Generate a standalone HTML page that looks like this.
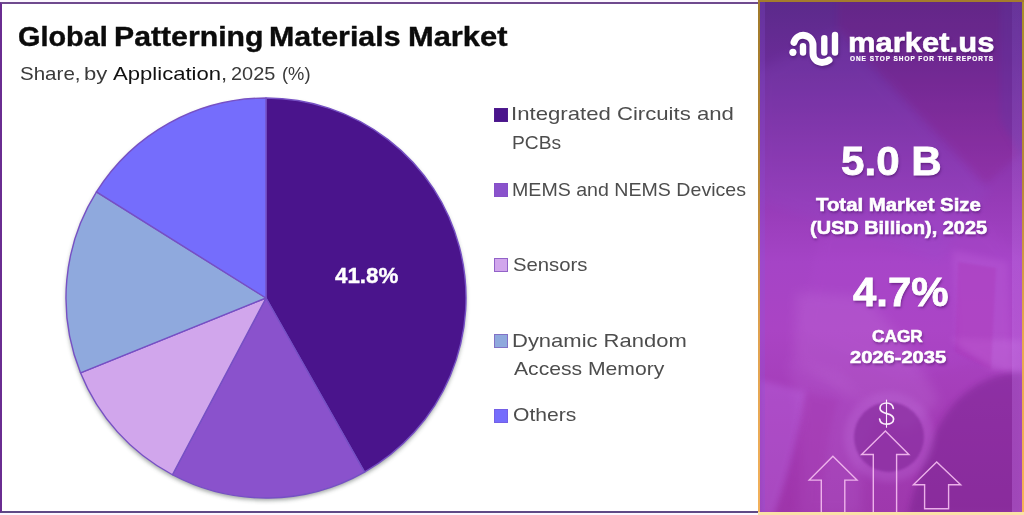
<!DOCTYPE html>
<html lang="en">
<head>
<meta charset="utf-8">
<title>Global Patterning Materials Market</title>
<style>
  html, body { margin: 0; padding: 0; }
  body {
    width: 1024px; height: 515px; overflow: hidden; position: relative;
    background: #fcf7ff;
    font-family: "Liberation Sans", sans-serif;
  }
  .abs { position: absolute; white-space: nowrap; line-height: 1; transform-origin: 0 0; }

  /* ---------- left chart card ---------- */
  #card {
    position: absolute; left: 0; top: 2px; width: 758px; height: 511px;
    box-sizing: border-box;
    border-left: 2px solid #6a2c91;
    border-top: 2px solid #6f4a8e;
    border-bottom: 2px solid #5f4a86;
    background: #ffffff;
  }
  .ttl { font-weight: bold; color: #0b0b0b; -webkit-text-stroke: 0.4px #0b0b0b; display:block; }
  .sub { color: #3a3a3a; display:block; }
  .sub b { font-weight: normal; color: #111; }

  .leg { color: #4d4d4d; }
  .sw { position: absolute; width: 14px; height: 14px; box-sizing: border-box; border: 1px solid #8a55c8; }

  /* ---------- right stat panel ---------- */
  #panel {
    position: absolute; left: 758px; top: 0; width: 266px; height: 515px;
    overflow: hidden;
    background: linear-gradient(180deg, #5b2a8b 0%, #6a2c97 12%, #8032a5 25%, #963bb7 39%, #a544c6 51%, #aa44c4 64%, #a43db8 78%, #9e38ac 100%);
  }
  #panelborder { position: absolute; left: 758px; top: 0; width: 266px; height: 515px; pointer-events: none; }
  #panelborder i { position: absolute; display: block; }
  #pb-t { left: 0; top: 0; width: 266px; height: 2px; background: #a47c2c; }
  #pb-l { left: 0; top: 0; width: 2px; height: 515px; background: linear-gradient(180deg, #a07a2a 0%, #b88838 35%, #e0a250 65%, #f3b25c 100%); }
  #pb-r { right: 0; top: 0; width: 2.4px; height: 515px; background: linear-gradient(180deg, #a89028 0%, #b88838 35%, #e8a850 65%, #f6b258 100%); }
  #pb-b { left: 0; bottom: 0; width: 266px; height: 2.8px; background: #fbe2a6; }
  .w { color: #ffffff; font-weight: bold; text-shadow: 1px 2px 2.5px rgba(60,10,85,0.5); }

  /* fitted text metrics */
  #tw1 { left:17.8px; top:22.7px; font-size:27.5px; transform:scaleX(1.048); }
  #tw2 { left:113.6px; top:22.7px; font-size:27.5px; transform:scaleX(1.099); }
  #tw3 { left:269.0px; top:22.7px; font-size:27.5px; transform:scaleX(1.103); }
  #tw4 { left:407.9px; top:22.7px; font-size:27.5px; transform:scaleX(1.122); }
  #sb1 { left:19.6px; top:63.9px; font-size:19.0px; transform:scaleX(1.081); }
  #sb2 { left:83.8px; top:63.9px; font-size:19.0px; transform:scaleX(1.160); }
  #sb3 { left:113.4px; top:63.9px; font-size:19.0px; transform:scaleX(1.163); }
  #sb4 { left:231.3px; top:63.9px; font-size:19.0px; transform:scaleX(1.050); }
  #sb5 { left:282.4px; top:63.9px; font-size:19.0px; transform:scaleX(0.965); }
  #pct { left:334.6px; top:265.0px; font-size:22.5px; transform:scaleX(0.992); }
  #l1a { left:511.2px; top:103.9px; font-size:19.0px; transform:scaleX(1.166); }
  #l1b { left:511.6px; top:132.9px; font-size:19.0px; transform:scaleX(1.011); }
  #l2 { left:511.6px; top:179.9px; font-size:19.0px; transform:scaleX(1.031); }
  #l3 { left:512.7px; top:254.9px; font-size:19.0px; transform:scaleX(1.068); }
  #l4a { left:511.5px; top:330.9px; font-size:19.0px; transform:scaleX(1.157); }
  #l4b { left:513.8px; top:358.9px; font-size:19.0px; transform:scaleX(1.112); }
  #l5 { left:512.7px; top:404.9px; font-size:19.0px; transform:scaleX(1.109); }
  #mk { left:848.0px; top:27.9px; font-size:28.5px; transform:scaleX(1.087); }
  #tag { left:850.2px; top:55.6px; font-size:6.5px; transform:scaleX(0.997); }
  #v1 { left:841.2px; top:139.9px; font-size:41.5px; transform:scaleX(1.016); }
  #t1 { left:816.0px; top:194.9px; font-size:19.0px; transform:scaleX(1.072); }
  #t2 { left:810.0px; top:217.9px; font-size:19.0px; transform:scaleX(1.048); }
  #v2 { left:852.8px; top:270.9px; font-size:41.5px; transform:scaleX(1.011); }
  #t3 { left:872.1px; top:328.0px; font-size:16.5px; transform:scaleX(1.044); }
  #t4 { left:849.8px; top:349.0px; font-size:16.5px; transform:scaleX(1.218); }
  /* end fitted */
  #v1, #v2 { -webkit-text-stroke: 0.8px #fff; }
  #t1, #t2, #t3, #t4 { -webkit-text-stroke: 0.6px #fff; }
  #pct { -webkit-text-stroke: 0.4px #fff; }
  #mk { -webkit-text-stroke: 0.6px #fff; }
  #tag { -webkit-text-stroke: 0.2px #fff; letter-spacing:0.95px; text-shadow:none; }
</style>
</head>
<body>

<div id="card"></div>

<div id="title"><span id="tw1" class="abs ttl">Global</span> <span id="tw2" class="abs ttl">Patterning</span> <span id="tw3" class="abs ttl">Materials</span> <span id="tw4" class="abs ttl">Market</span></div>
<div id="subtitle"><span id="sb1" class="abs sub">Share,</span> <span id="sb2" class="abs sub">by</span> <span id="sb3" class="abs sub"><b>Application</b>,</span> <span id="sb4" class="abs sub">2025</span> <span id="sb5" class="abs sub">(%)</span></div>

<!-- pie -->
<svg id="pie" class="abs" style="left:46px; top:78px;" width="440" height="440" viewBox="46 78 440 440">
  <defs>
    <filter id="ps" x="-10%" y="-10%" width="120%" height="120%">
      <feGaussianBlur stdDeviation="2.2"/>
    </filter>
  </defs>
  <circle cx="266" cy="300.5" r="200" fill="#3c4a44" opacity="0.5" filter="url(#ps)"/>
  <g stroke="#7650c4" stroke-width="1.4" stroke-linejoin="round">
    <path id="s1" fill="#4a148c" d="M266 298 L266.00 98.00 A200 200 0 0 1 364.55 472.04 Z"/>
    <path id="s2" fill="#8a52cc" d="M266 298 L364.55 472.04 A200 200 0 0 1 172.41 474.75 Z"/>
    <path id="s3" fill="#d1a6ec" d="M266 298 L172.41 474.75 A200 200 0 0 1 80.51 372.79 Z"/>
    <path id="s4" fill="#8fa9dd" d="M266 298 L80.51 372.79 A200 200 0 0 1 96.46 191.90 Z"/>
    <path id="s5" fill="#756dfc" d="M266 298 L96.46 191.90 A200 200 0 0 1 266.00 98.00 Z"/>
  </g>
</svg>

<div id="pct" class="abs" style="font-weight:bold; color:#fff;">41.8%</div>

<!-- legend -->
<div class="sw" style="left:494px; top:108px; background:#4a148c; border-color:#4f1c8e;"></div>
<div class="abs leg" id="l1a">Integrated Circuits and</div>
<div class="abs leg" id="l1b">PCBs</div>

<div class="sw" style="left:494px; top:183px; background:#8a52cc; border-color:#8650c8;"></div>
<div class="abs leg" id="l2">MEMS and NEMS Devices</div>

<div class="sw" style="left:494px; top:258px; background:#d1a6ec; border-color:#9263c8;"></div>
<div class="abs leg" id="l3">Sensors</div>

<div class="sw" style="left:494px; top:334px; background:#8fa9dd; border-color:#8272c6;"></div>
<div class="abs leg" id="l4a">Dynamic Random</div>
<div class="abs leg" id="l4b">Access Memory</div>

<div class="sw" style="left:494px; top:409px; background:#756dfc; border-color:#7460e6;"></div>
<div class="abs leg" id="l5">Others</div>

<!-- right panel -->
<div id="panel">
  <svg id="bgart" width="266" height="515" viewBox="758 0 266 515" style="position:absolute;left:0;top:0;">
    <defs>
      <linearGradient id="stripg" x1="0" y1="0" x2="0" y2="1"><stop offset="0" stop-color="#8c6ad8" stop-opacity="0.14"/><stop offset="0.5" stop-color="#c680ee" stop-opacity="0.24"/><stop offset="1" stop-color="#cc7cf0" stop-opacity="0.34"/></linearGradient>
      <filter id="b3" x="-20%" y="-20%" width="140%" height="140%"><feGaussianBlur stdDeviation="3"/></filter>
      <filter id="b6" x="-20%" y="-20%" width="140%" height="140%"><feGaussianBlur stdDeviation="6"/></filter>
      <filter id="b1" x="-20%" y="-20%" width="140%" height="140%"><feGaussianBlur stdDeviation="1.2"/></filter>
    </defs>
    <!-- top: dark clipboard band and lighter paper -->
    <polygon points="838,0 1024,0 1024,150 985,185 838,30" fill="#8a1478" opacity="0.17" filter="url(#b3)"/>
    <polygon points="758,70 838,30 990,190 940,260 758,200" fill="#8a52d0" opacity="0.16" filter="url(#b6)"/>
    <polygon points="1000,0 1024,0 1024,160 1000,120" fill="#5a3aa8" opacity="0.25" filter="url(#b3)"/>
    <!-- middle light region -->
    <polygon points="820,230 960,200 1024,260 1024,350 900,380 800,330" fill="#b450d6" opacity="0.14" filter="url(#b6)"/>
    <!-- laptop screen band, right of 4.7% -->
    <polygon points="952,250 1008,262 1012,372 958,350" fill="#c468de" opacity="0.26" filter="url(#b3)"/>
    <!-- arm reaching to the cup -->
    <path d="M796,292 L862,296 C900,330 925,372 940,402 L905,432 C880,410 840,392 794,362 Z" fill="#c274da" opacity="0.26" filter="url(#b6)"/>
    <!-- left hand / paper -->
    <path d="M786,360 C800,400 803,440 798,515 L862,515 C858,475 866,440 880,420 L840,372 Z" fill="#bb66d6" opacity="0.24" filter="url(#b6)"/>
    <path d="M760,380 L806,392 C800,430 790,470 774,515 L760,515 Z" fill="#be6ae6" opacity="0.34" filter="url(#b3)"/>
    <path d="M806,392 C800,430 790,470 776,515 L822,515 C824,470 828,430 838,400 Z" fill="#a02ca4" opacity="0.22" filter="url(#b3)"/>
    <rect x="760" y="0" width="5" height="515" fill="#8a58e0" opacity="0.22"/>
    <!-- top-right light band (laptop edge) -->
    <polygon points="950,338 1024,340 1024,374 992,370" fill="#c670e0" opacity="0.38" filter="url(#b3)"/>
    <!-- saturated laptop back panel -->
    <polygon points="958,262 996,268 991,370 955,352" fill="#a828ac" opacity="0.22" filter="url(#b1)"/>
    <!-- dark sleeve -->
    <path d="M1024,372 C985,372 950,395 932,440 C920,470 912,495 908,515 L1024,515 Z" fill="#6e1c86" opacity="0.42" filter="url(#b3)"/>
    <!-- cup -->
    <circle cx="889" cy="437" r="45" fill="#c070dc" opacity="0.28" filter="url(#b3)"/>
    <circle cx="889" cy="437" r="35" fill="#7e2494" opacity="0.55" filter="url(#b1)"/>
    <rect x="1012" y="0" width="10" height="515" fill="url(#stripg)"/>
  </svg>
</div>

<svg id="fg" class="abs" style="left:758px; top:0;" width="266" height="515" viewBox="758 0 266 515">
  <!-- logo -->
  <g id="logo" style="filter: drop-shadow(1px 2px 1.5px rgba(50,10,80,0.4));" fill="none" stroke="#fff" stroke-width="7" stroke-linecap="round">
    <path d="M794 42.3 A9.7 9.7 0 0 1 813 45 L813 53 C813 58.4 816.6 62.4 822 62.4 C825 62.4 827.4 61.6 829 60.2"/>
    <path d="M803 46.2 L803 52.6" stroke-width="6.4"/>
    <path d="M824.3 38.2 L824.3 52.6" stroke-width="6.4"/>
    <path d="M835 35 L835 52.6" stroke-width="6.4"/>
    <circle cx="792.9" cy="52.3" r="3.6" fill="#fff" stroke="none"/>
  </g>
  <!-- dollar sign -->
  <g id="dollar" role="img" aria-label="$" fill="none" stroke="#fbeefc" stroke-linecap="round">
    <path stroke-width="1.7" d="M893.3 408.3 C892.8 405 890 403 886.6 403 C882.8 403 880 405.2 880 408.2 C880 411.4 883 412.6 886.8 413.6 C890.8 414.6 893.6 416 893.6 419 C893.6 422.2 890.6 424.2 886.6 424.2 C882.6 424.2 880 422.2 879.6 419"/>
    <path stroke-width="1.1" d="M886.5 400 L886.5 427.3"/>
  </g>
  <!-- arrows -->
  <g fill="none" stroke="#f4bcf0" stroke-width="1.4" stroke-linejoin="miter" opacity="0.92">
    <path d="M873.3 516 L873.3 454.5 L861.6 454.5 L885.4 431.1 L908.9 454.5 L896.6 454.5 L896.6 516"/>
    <path d="M821.3 516 L821.3 480.1 L809.2 480.1 L832.9 456.3 L857 480.1 L844.8 480.1 L844.8 516"/>
    <path d="M924.6 508.8 L924.6 484.8 L913.4 484.8 L936.7 461.9 L960.7 484.8 L948.6 484.8 L948.6 508.8 Z"/>
  </g>
</svg>

<div id="mk" class="abs w">market.us</div>
<div id="tag" class="abs w">ONE STOP SHOP FOR THE REPORTS</div>

<div id="v1" class="abs w">5.0 B</div>
<div id="t1" class="abs w">Total Market Size</div>
<div id="t2" class="abs w">(USD Billion), 2025</div>
<div id="v2" class="abs w">4.7%</div>
<div id="t3" class="abs w">CAGR</div>
<div id="t4" class="abs w">2026-2035</div>

<div id="panelborder"><i id="pb-l"></i><i id="pb-r"></i><i id="pb-t"></i><i id="pb-b"></i></div>


</body>
</html>
